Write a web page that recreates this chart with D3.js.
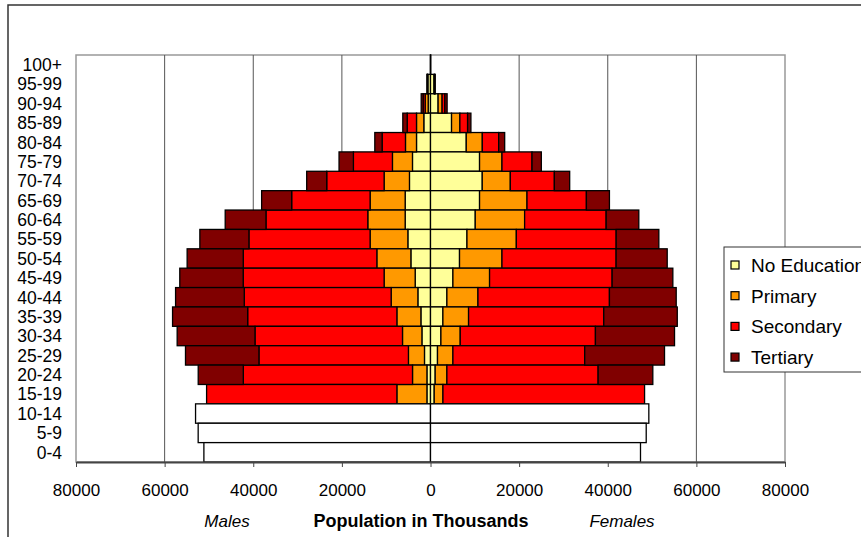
<!DOCTYPE html>
<html>
<head>
<meta charset="utf-8">
<script src="https://cdn.jsdelivr.net/npm/d3@7"></script>
<style>
  body { margin: 0; background: #fff; }
  text { font-family: Arial, "Liberation Sans", sans-serif; fill: #000; }
</style>
</head>
<body>
<div class="chart"></div>
<script>
var svgWidth = 861;
var svgHeight = 537;

// age groups, top to bottom
var ageGroups = ["100+", "95-99", "90-94", "85-89", "80-84", "75-79", "70-74", "65-69",
  "60-64", "55-59", "50-54", "45-49", "40-44", "35-39", "30-34", "25-29", "20-24",
  "15-19", "10-14", "5-9", "0-4"];

var levels = ["No Education", "Primary", "Secondary", "Tertiary"];
var levelColors = ["#FFFF99", "#FF9900", "#FF0000", "#800000"];

// thousands, males
var maleNoEdu = [30, 600, 520, 1510, 3160, 4070, 4750, 5720, 5720, 5110, 4430, 3460, 2850, 2170, 1940, 1360, 810, 810, 0, 0, 0];
var malePrimary = [0, 80, 680, 1650, 2490, 4520, 5720, 7910, 8430, 8520, 7680, 7010, 6030, 5420, 4380, 3620, 3250, 6780, 0, 0, 0];
var maleSecondary = [0, 60, 450, 2100, 5270, 8810, 12950, 17700, 22980, 27350, 30150, 31800, 33150, 33670, 33290, 33740, 38190, 42940, 0, 0, 0];
var maleTertiary = [0, 60, 450, 990, 1650, 3240, 4520, 6780, 9200, 11070, 12660, 14310, 15500, 16950, 17560, 16570, 10170, 0, 0, 0, 0];
var maleChildren = [0, 0, 0, 0, 0, 0, 0, 0, 0, 0, 0, 0, 0, 0, 0, 0, 0, 0, 53020, 52430, 51140];

// thousands, females
var femaleNoEdu = [60, 800, 1720, 4750, 8070, 11070, 11680, 11070, 10100, 8230, 6550, 5060, 3700, 2800, 2350, 1580, 1060, 840, 0, 0, 0];
var femalePrimary = [0, 100, 900, 1880, 3620, 5060, 6330, 10710, 11140, 11140, 9580, 8270, 7010, 5790, 4360, 3480, 2640, 1970, 0, 0, 0];
var femaleSecondary = [0, 80, 610, 1740, 3690, 6780, 9940, 13400, 18400, 22530, 25760, 27660, 29670, 30510, 30510, 29740, 34130, 45500, 0, 0, 0];
var femaleTertiary = [0, 80, 520, 750, 1360, 2100, 3460, 5200, 7370, 9630, 11530, 13700, 15070, 16590, 17850, 18010, 12340, 0, 0, 0, 0];
var femaleChildren = [0, 0, 0, 0, 0, 0, 0, 0, 0, 0, 0, 0, 0, 0, 0, 0, 0, 0, 49270, 48680, 47390];

var xTicks = [-80000, -60000, -40000, -20000, 0, 20000, 40000, 60000, 80000];

var plot = { left: 76, right: 785, top: 55, bottom: 462 };

var svg = d3.select(".chart")
  .append("svg")
  .attr("width", svgWidth)
  .attr("height", svgHeight);

// outer chart frame
svg.append("rect")
  .attr("x", 8).attr("y", 5)
  .attr("width", 900).attr("height", 600)
  .attr("fill", "#fff")
  .attr("stroke", "#333")
  .attr("stroke-width", 1.5);

var xScale = d3.scaleLinear()
  .domain([-80000, 80000])
  .range([plot.left, plot.right]);

var yScale = d3.scaleBand()
  .domain(ageGroups)
  .range([plot.top, plot.bottom])
  .padding(0);

// plot area border
svg.append("rect")
  .attr("x", plot.left).attr("y", plot.top)
  .attr("width", plot.right - plot.left)
  .attr("height", plot.bottom - plot.top)
  .attr("fill", "none")
  .attr("stroke", "#999")
  .attr("stroke-width", 1.5);

// gridlines
svg.append("g")
  .selectAll("line")
  .data(xTicks.slice(1, -1))
  .enter().append("line")
    .attr("x1", function(d) { return xScale(d); })
    .attr("x2", function(d) { return xScale(d); })
    .attr("y1", plot.top)
    .attr("y2", plot.bottom)
    .attr("stroke", "#555")
    .attr("stroke-width", 1);

function buildRows(noEdu, primary, secondary, tertiary, children) {
  return ageGroups.map(function(age, i) {
    return {
      age: age,
      "No Education": noEdu[i],
      "Primary": primary[i],
      "Secondary": secondary[i],
      "Tertiary": tertiary[i],
      "Children": children[i]
    };
  });
}

var keys = levels.concat(["Children"]);
var colors = levelColors.concat(["#FFFFFF"]);
var stack = d3.stack().keys(keys);

var maleSeries = stack(buildRows(maleNoEdu, malePrimary, maleSecondary, maleTertiary, maleChildren));
var femaleSeries = stack(buildRows(femaleNoEdu, femalePrimary, femaleSecondary, femaleTertiary, femaleChildren));

var bars = svg.append("g");

function drawSide(series, sign) {
  series.forEach(function(s, k) {
    bars.append("g")
      .selectAll("rect")
      .data(s.filter(function(d) { return d[1] - d[0] > 0; }))
      .enter().append("rect")
        .attr("x", function(d) { return sign < 0 ? xScale(-d[1]) : xScale(d[0]); })
        .attr("width", function(d) { return Math.abs(xScale(d[1]) - xScale(d[0])); })
        .attr("y", function(d) { return yScale(d.data.age); })
        .attr("height", yScale.bandwidth())
        .attr("fill", colors[k])
        .attr("stroke", "#000")
        .attr("stroke-width", 1.3);
  });
}

drawSide(maleSeries, -1);
drawSide(femaleSeries, 1);

// bottom axis
var bottomAxis = d3.axisBottom(xScale)
  .tickValues(xTicks)
  .tickFormat(function(d) { return Math.abs(d); })
  .tickSize(5)
  .tickSizeOuter(0)
  .tickPadding(17);

var xAxis = svg.append("g")
  .attr("transform", "translate(0," + plot.bottom + ")")
  .call(bottomAxis);

xAxis.select(".domain").attr("stroke", "#444").attr("stroke-width", 2);
xAxis.selectAll(".tick line").attr("stroke", "#444");
xAxis.selectAll("text")
  .style("font-family", "Arial, 'Liberation Sans', sans-serif")
  .style("font-size", "17px")
  .attr("fill", "#000");

// age labels
svg.append("g")
  .selectAll("text")
  .data(ageGroups)
  .enter().append("text")
    .attr("x", 62)
    .attr("y", function(d) { return yScale(d) + yScale.bandwidth() / 2; })
    .attr("dy", "0.36em")
    .attr("text-anchor", "end")
    .style("font-size", "17.5px")
    .text(function(d) { return d; });

// axis titles
svg.append("text")
  .attr("x", 227).attr("y", 527)
  .attr("text-anchor", "middle")
  .style("font-size", "17px")
  .style("font-style", "italic")
  .text("Males");

svg.append("text")
  .attr("x", 421).attr("y", 527)
  .attr("text-anchor", "middle")
  .style("font-size", "18px")
  .style("font-weight", "bold")
  .text("Population in Thousands");

svg.append("text")
  .attr("x", 622).attr("y", 527)
  .attr("text-anchor", "middle")
  .style("font-size", "17px")
  .style("font-style", "italic")
  .text("Females");

// legend
var legend = svg.append("g");

legend.append("rect")
  .attr("x", 724).attr("y", 247)
  .attr("width", 200).attr("height", 125)
  .attr("fill", "#fff")
  .attr("stroke", "#333")
  .attr("stroke-width", 1);

levels.forEach(function(name, i) {
  var cy = 265 + i * 30.7;
  legend.append("rect")
    .attr("x", 731).attr("y", cy - 4)
    .attr("width", 8).attr("height", 8)
    .attr("fill", levelColors[i])
    .attr("stroke", "#000")
    .attr("stroke-width", 1.2);
  legend.append("text")
    .attr("x", 751).attr("y", cy)
    .attr("dy", "0.36em")
    .style("font-size", "19px")
    .text(name);
});
</script>
</body>
</html>
